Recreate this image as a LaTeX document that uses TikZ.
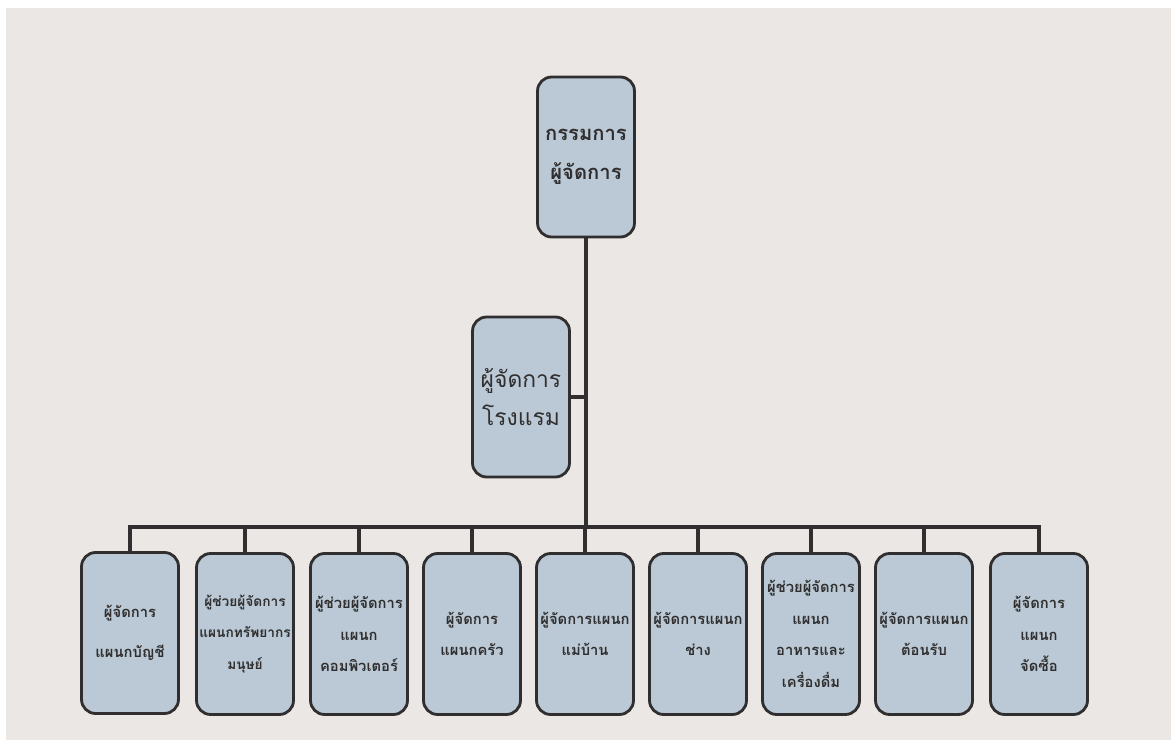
\documentclass[tikz,border=0pt]{standalone}
\usepackage{fontspec}
\newfontfamily\thaifont[Script=Thai]{Loma}
\usetikzlibrary{positioning}
\definecolor{paper}{RGB}{235,231,229}
\definecolor{boxfill}{RGB}{186,201,213}
\definecolor{ink}{RGB}{48,46,46}
\tikzset{
    orgbox/.style={draw=ink, line width=1.6pt, fill=boxfill, rounded corners=8pt,
        minimum width=1.94cm, minimum height=3.22cm, align=center, inner sep=1pt,
        text width=1.86cm, text=ink, font=\thaifont\bfseries\fontsize{8.4}{18}\selectfont},
    link/.style={draw=ink, line width=2.6pt}
}

\begin{document}
\begin{tikzpicture}[x=0.02cm, y=-0.02cm]
    % page and photo background
    \fill[white] (0, 0) rectangle (1171, 740);
    \fill[paper] (6, 8) rectangle (1171, 740);
    \useasboundingbox (0, 0) rectangle (1171, 740);

    \node[orgbox, minimum height=3.2cm, font=\thaifont\bfseries\fontsize{11.5}{22}\selectfont] (board) at (586, 157) {กรรมการ\\ผู้จัดการ};
    \node[orgbox, minimum height=3.2cm, font=\thaifont\fontsize{13}{21.5}\selectfont] (hotel) at (521, 397) {ผู้จัดการ\\โรงแรม};

    \coordinate (bus) at (586, 527);

    \node[orgbox] (acct) at (130, 633) {ผู้จัดการ\\[5pt]แผนกบัญชี};
    \node[orgbox, font=\thaifont\bfseries\fontsize{7.8}{18}\selectfont] (hr) at (245, 634) {ผู้ช่วยผู้จัดการ\\แผนกทรัพยากร\\มนุษย์};
    \node[orgbox] (comp) at (359, 634) {ผู้ช่วยผู้จัดการ\\แผนก\\คอมพิวเตอร์};
    \node[orgbox] (kitchen) at (472, 634) {ผู้จัดการ\\แผนกครัว};
    \node[orgbox] (house) at (585, 634) {ผู้จัดการแผนก\\แม่บ้าน};
    \node[orgbox] (tech) at (698, 634) {ผู้จัดการแผนก\\ช่าง};
    \node[orgbox] (food) at (811, 634) {ผู้ช่วยผู้จัดการ\\แผนก\\อาหารและ\\เครื่องดื่ม};
    \node[orgbox] (front) at (924, 634) {ผู้จัดการแผนก\\ต้อนรับ};
    \node[orgbox] (buy) at (1039, 634) {ผู้จัดการ\\แผนก\\จัดซื้อ};

    % trunk and branches
    \draw[link] (board.south) -- (board.south |- bus);
    \draw[link] (hotel.east) -- (hotel.east -| board.south);
    \draw[link] (acct.north) -- (acct.north |- bus) -- (buy.north |- bus) -- (buy.north);
    \draw[link] (hr.north) -- (hr.north |- bus);
    \draw[link] (comp.north) -- (comp.north |- bus);
    \draw[link] (kitchen.north) -- (kitchen.north |- bus);
    \draw[link] (house.north) -- (house.north |- bus);
    \draw[link] (tech.north) -- (tech.north |- bus);
    \draw[link] (food.north) -- (food.north |- bus);
    \draw[link] (front.north) -- (front.north |- bus);
\end{tikzpicture}
\end{document}
